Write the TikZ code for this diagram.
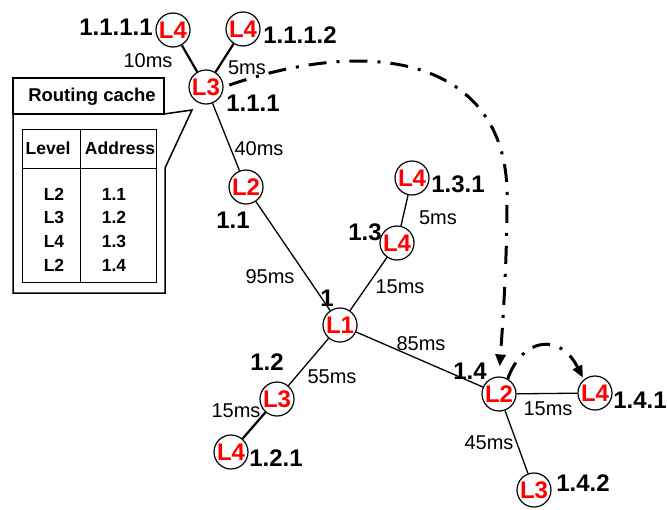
\documentclass[tikz,border=0pt]{standalone}
\usepackage{fontspec}
\setmainfont{Liberation Sans}
\usetikzlibrary{arrows.meta}
\begin{document}
\begin{tikzpicture}[x=1pt,y=-1pt,
  router/.style={circle,draw,line width=1.2pt,minimum size=34pt,inner sep=0pt,
    text=red,font=\fontsize{24}{24}\selectfont\bfseries},
  addr/.style={font=\fontsize{24}{24}\selectfont\bfseries,inner sep=0pt},
  delay/.style={font=\fontsize{20}{20}\selectfont,inner sep=0pt},
  link/.style={line width=1.3pt},
  thicklink/.style={line width=2.2pt},
  route/.style={line width=3pt,dash pattern=on 18pt off 10pt on 3pt off 10pt,
    -{Triangle[length=12pt,width=10pt]}},
  cell/.style={font=\fontsize{17.5}{17.5}\selectfont\bfseries,inner sep=0pt},
  frame/.style={line width=1.5pt},
  grid/.style={line width=1pt}
]
\useasboundingbox (0,0) rectangle (668,509);

% routers
\node[router] (n1111) at (173,30) {L4};
\node[router] (n1112) at (243,29) {L4};
\node[router] (n111)  at (206,87) {L3};
\node[router] (n11)   at (246,187) {L2};
\node[router] (n131)  at (412,178) {L4};
\node[router] (n13)   at (397,243) {L4};
\node[router] (n1)    at (340,325) {L1};
\node[router] (n12)   at (277,399) {L3};
\node[router] (n121)  at (231,452) {L4};
\node[router] (n14)   at (499,394) {L2};
\node[router] (n141)  at (595,393) {L4};
\node[router] (n142)  at (534,490) {L3};

% addresses
\node[addr] (a1111) at (116,27)  {1.1.1.1};
\node[addr] (a1112) at (300,35)  {1.1.1.2};
\node[addr] (a111)  at (253,103) {1.1.1};
\node[addr] (a11)   at (233,220) {1.1};
\node[addr] (a131)  at (458,184) {1.3.1};
\node[addr] (a13)   at (365,232) {1.3};
\node[addr] (a1)    at (327,298) {1};
\node[addr] (a12)   at (267,362) {1.2};
\node[addr] (a121)  at (276,458) {1.2.1};
\node[addr] (a14)   at (470,371) {1.4};
\node[addr] (a141)  at (640,400) {1.4.1};
\node[addr] (a142)  at (583,483) {1.4.2};

% links
\draw[thicklink] (n1111) -- (n111);
\draw[thicklink] (n1112) -- (n111);
\draw[link] (n111) -- (n11);
\draw[link] (n11) -- (n1);
\draw[link] (n1) -- (n13);
\draw[link] (n13) -- (n131);
\draw[link] (n1) -- (n12);
\draw[thicklink] (n12) -- (n121);
\draw[link] (n1) -- (n14);
\draw[link] (n14) -- (n141);
\draw[link] (n14) -- (n142);

% delays
\node[delay] (d1) at (148,61)  {10ms};
\node[delay] (d2) at (247,68)  {5ms};
\node[delay] (d3) at (259,149) {40ms};
\node[delay] (d4) at (270,277) {95ms};
\node[delay] (d5) at (400,287) {15ms};
\node[delay] (d6) at (438,218) {5ms};
\node[delay] (d7) at (421,344) {85ms};
\node[delay] (d8) at (332,377) {55ms};
\node[delay] (d9) at (236,411) {15ms};
\node[delay] (d10) at (548,409) {15ms};
\node[delay] (d11) at (489,443) {45ms};

% routing cache callout
\coordinate (tip) at (192,110);
\draw[frame] (13,78) rectangle (164,114);
\node[font=\fontsize{18.5}{18.5}\selectfont\bfseries,inner sep=0pt] (title) at (92,97) {Routing cache};
\draw[frame,line join=miter] (164,114) -- (tip) -- (165,168) -- (165,293) -- (13,293) -- (13,114);
\draw[grid] (22,129) rectangle (156,282);
\draw[grid] (80,129) -- (80,282);
\draw[grid] (22,168) -- (156,168);
\node[cell] (h1) at (48,148) {Level};
\node[cell] (h2) at (120,148) {Address};
\node[cell] (l1) at (54,194) {L2};
\node[cell] (l2) at (54,217) {L3};
\node[cell] (l3) at (54,241) {L4};
\node[cell] (l4) at (54,265) {L2};
\node[cell] (r1) at (114,194) {1.1};
\node[cell] (r2) at (114,217) {1.2};
\node[cell] (r3) at (114,241) {1.3};
\node[cell] (r4) at (114,265) {1.4};

% cached routes
\draw[route,shorten <=6pt,shorten >=10pt] (n111.east) .. controls (390,30) and (510,70) .. (507,200)
  .. controls (507,260) and (503,320) .. (n14.north);
\draw[route,shorten >=2pt] (n14.60) .. controls (522,338) and (560,332) .. (n141.130);
\end{tikzpicture}
\end{document}
